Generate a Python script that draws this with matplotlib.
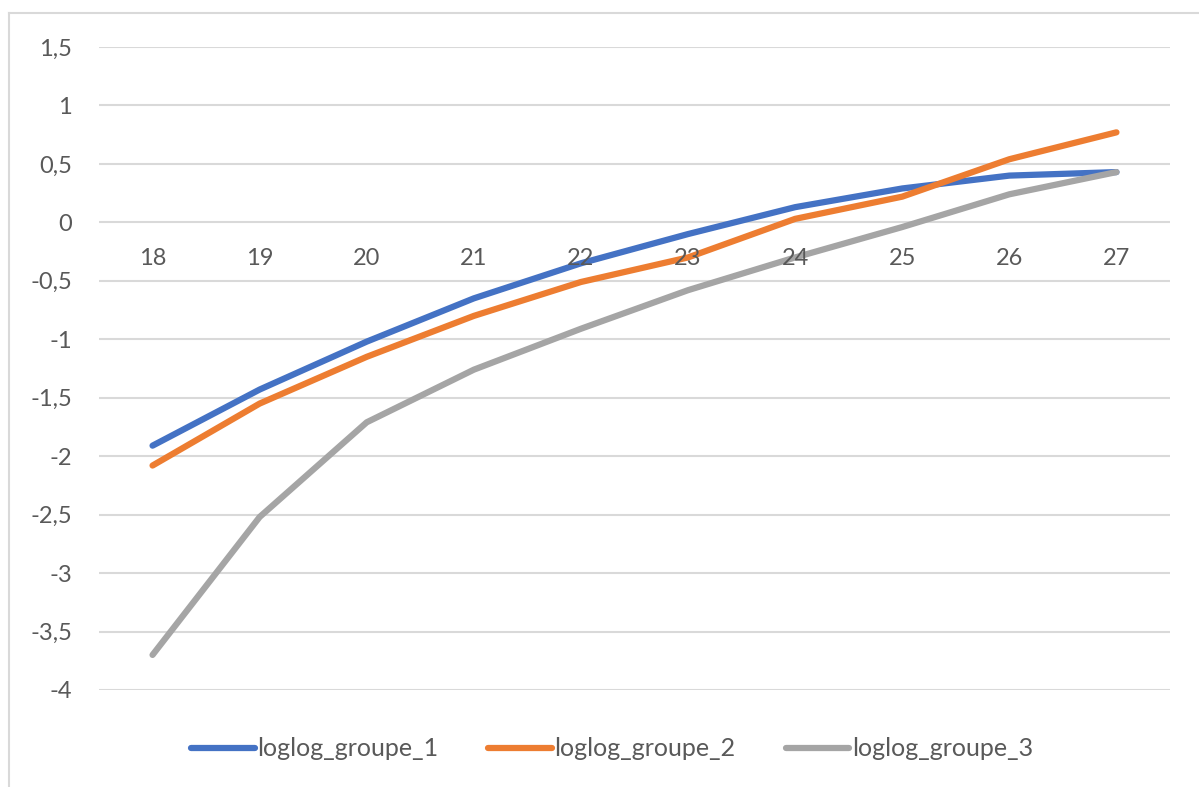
import matplotlib
matplotlib.use("Agg")
import matplotlib.pyplot as plt
from matplotlib.lines import Line2D

# Data
ages = [18, 19, 20, 21, 22, 23, 24, 25, 26, 27]
groupe_1 = [-1.91, -1.43, -1.02, -0.65, -0.35, -0.10, 0.13, 0.29, 0.40, 0.43]
groupe_2 = [-2.08, -1.55, -1.15, -0.80, -0.51, -0.30, 0.03, 0.22, 0.54, 0.77]
groupe_3 = [-3.70, -2.52, -1.71, -1.26, -0.91, -0.58, -0.30, -0.04, 0.24, 0.43]
series_names = ["loglog_groupe_1", "loglog_groupe_2", "loglog_groupe_3"]
y_ticks = [1.5, 1, 0.5, 0, -0.5, -1, -1.5, -2, -2.5, -3, -3.5, -4]

colors = ["#4472C4", "#ED7D31", "#A5A5A5"]
text_color = "#595959"
grid_color = "#D9D9D9"

plt.rcParams["font.family"] = ["Lato", "DejaVu Sans"]
FS = 17

W, H = 1199, 787
fig = plt.figure(figsize=(W / 100, H / 100), dpi=100)
fig.patch.set_facecolor("white")

left, right = 99 / W, 1170 / W
top, bottom = 1 - 47 / H, 1 - 690 / H
ax = fig.add_axes([left, bottom, right - left, top - bottom])

x = list(range(len(ages)))
for vals, c in zip([groupe_1, groupe_2, groupe_3], colors):
    ax.plot(x, vals, color=c, lw=4.5, solid_capstyle="round",
            solid_joinstyle="round", zorder=3)

ax.set_xlim(-0.5, len(ages) - 0.5)
ax.set_ylim(-4, 1.5)

# horizontal gridlines
for t in y_ticks:
    ax.axhline(t, color=grid_color, lw=1.5, zorder=1)

ax.set_yticks(y_ticks)
ax.set_yticklabels([("%g" % t).replace(".", ",") for t in y_ticks])
ax.tick_params(axis="y", length=0, pad=19.5, labelsize=FS, labelcolor=text_color)
ax.set_xticks([])
for s in ax.spines.values():
    s.set_visible(False)

# category labels sit just below the zero line
for i, a in enumerate(ages):
    ax.annotate(str(a), xy=(i, 0), xytext=(0, -36), textcoords="offset pixels",
                ha="center", va="center", fontsize=FS, color=text_color)

# chart-area border (top and left edges visible)
fig.add_artist(Line2D([9 / W, 1.0], [1 - 13 / H, 1 - 13 / H],
                      transform=fig.transFigure, color=grid_color, lw=1.5))
fig.add_artist(Line2D([9 / W, 9 / W], [0, 1 - 13 / H],
                      transform=fig.transFigure, color=grid_color, lw=1.5))

handles = [Line2D([], [], color=c, lw=4.5, solid_capstyle="round") for c in colors]
leg = fig.legend(handles, series_names, loc="center",
                 bbox_to_anchor=(612 / W, 1 - 749 / H), ncol=3, frameon=False,
                 fontsize=18, handlelength=2.55, handletextpad=0.1,
                 columnspacing=2.0, labelcolor=text_color)

fig.savefig("out.png", dpi=100, facecolor="white")
